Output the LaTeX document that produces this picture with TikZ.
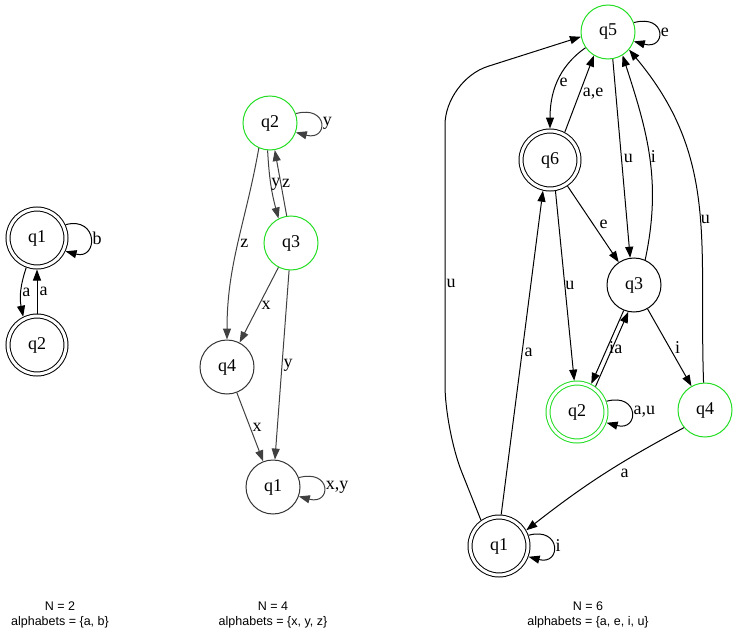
\documentclass[tikz,border=0pt]{standalone}
\usepackage{fontspec}
\setmainfont{Liberation Serif}
\newfontfamily\capfont{Liberation Sans}
\usepackage{xcolor}
\usepackage{tikz}
\usetikzlibrary{arrows.meta}

\definecolor{accgreen}{HTML}{22DD22}

\begin{document}
\begin{tikzpicture}[
  x=1pt, y=1pt,
  state/.style={circle, draw, line width=1pt, minimum size=54pt, inner sep=0pt, font=\fontsize{18}{21}\selectfont},
  accept/.style={state, minimum size=58pt, double, double distance=3pt, outer sep=2.5pt},
  arr/.style={-{Triangle[length=11pt, width=8pt]}, line width=1pt},
  garr/.style={arr, draw=black!75},
  lbl/.style={font=\fontsize{18}{21}\selectfont, inner sep=2pt},
  caption/.style={font=\capfont\fontsize{12.5}{15.5}\selectfont, align=center}
]
\useasboundingbox (0,0) rectangle (737,-637);

\node[accept] (a1) at (37,-238) {q1};
\node[accept] (a2) at (37,-345) {q2};

\node[state, draw=accgreen] (b2) at (270,-123) {q2};
\node[state, draw=accgreen] (b3) at (291,-243) {q3};
\node[state, draw=black!80] (b4) at (227,-367) {q4};
\node[state, draw=black!80] (b1) at (273,-487) {q1};

\node[state, draw=accgreen] (c5) at (608,-32) {q5};
\node[accept] (c6) at (550,-160) {q6};
\node[state] (c3) at (634,-285) {q3};
\node[accept, draw=accgreen] (c2) at (577,-412) {q2};
\node[state, draw=accgreen] (c4) at (705,-410) {q4};
\node[accept] (c1) at (499,-546) {q1};

\node[caption] (capa) at (60,-615) {N = 2\\alphabets = \{a, b\}};
\node[caption] (capb) at (273,-615) {N = 4\\alphabets = \{x, y, z\}};
\node[caption] (capc) at (588,-615) {N = 6\\alphabets = \{a, e, i, u\}};

\draw[arr] (a1.25) .. controls +(15:34) and +(-15:34) .. (a1.-25) node[lbl, pos=.5, right] {b};
\draw[arr] (a1.250) to[bend right=15] node[lbl, right, inner sep=1pt] {a} (a2.116);
\draw[arr] (a2) -- node[lbl, right] {a} (a1);

\draw[garr] (b2.20) .. controls +(15:34) and +(-15:34) .. (b2.-20) node[lbl, pos=.5, right] {y};
\draw[garr] (b2.265) to[bend right=6] node[lbl, right, inner sep=0pt] {y} (b3.117);
\draw[garr] (b3.99) -- node[lbl, right, inner sep=1pt] {z} (b2.-80);
\draw[garr] (b2.246) to[out=-100, in=90] node[lbl, right] {z} (b4);
\draw[garr] (b3) -- node[lbl, right] {x} (b4);
\draw[garr] (b3.266) -- node[lbl, right, inner sep=1pt] {y} (b1.86);
\draw[garr] (b4) -- node[lbl, right] {x} (b1);
\draw[garr] (b1.20) .. controls +(15:34) and +(-15:34) .. (b1.-20) node[lbl, pos=.5, right] {x,y};

\draw[arr] (c5.20) .. controls +(15:34) and +(-15:34) .. (c5.-20) node[lbl, pos=.5, right] {e};
\draw[arr] (c5.215) to[out=215, in=90] node[lbl, right] {e} (c6);
\draw[arr] (c6.62) -- node[lbl, right, inner sep=3pt] {a,e} (c5.239);
\draw[arr] (c5.280) -- node[lbl, right] {u} (c3.98);
\draw[arr] (c3.66) to[out=78, in=-72] node[lbl, right, inner sep=1pt] {i} (c5.-58);
\draw[arr] (c4.93) to[out=92, in=-50, looseness=1.05] node[lbl, right, pos=.45, inner sep=0.5pt] {u} (c5.-40);
\draw[arr] (c6) -- node[lbl, right=4pt] {e} (c3);
\draw[arr] (c6.-80) -- node[lbl, right, inner sep=0pt] {u} (c2.95);
\draw[arr] (c1.86) -- node[lbl, right] {a} (c6.-103);
\draw[arr, rounded corners=45pt] (c1.125) -- (445,-430) -- node[lbl, right, pos=.42, inner sep=1pt] {u} (445,-80) -- (c5.190);
\draw[arr] (c3.248) -- node[lbl, right, inner sep=1pt] {i} (c2.63);
\draw[arr] (c2.54) -- node[lbl, right] {a} (c3.258);
\draw[arr] (c3) -- node[lbl, right=3pt] {i} (c4);
\draw[arr] (c2.20) .. controls +(15:34) and +(-15:34) .. (c2.-20) node[lbl, pos=.5, right] {a,u};
\draw[arr] (c4.220) to[bend right=5] node[lbl, pos=.4, below right, inner sep=3pt] {a} (c1.30);
\draw[arr] (c1.20) .. controls +(15:34) and +(-15:34) .. (c1.-20) node[lbl, pos=.5, right] {i};
\end{tikzpicture}
\end{document}
